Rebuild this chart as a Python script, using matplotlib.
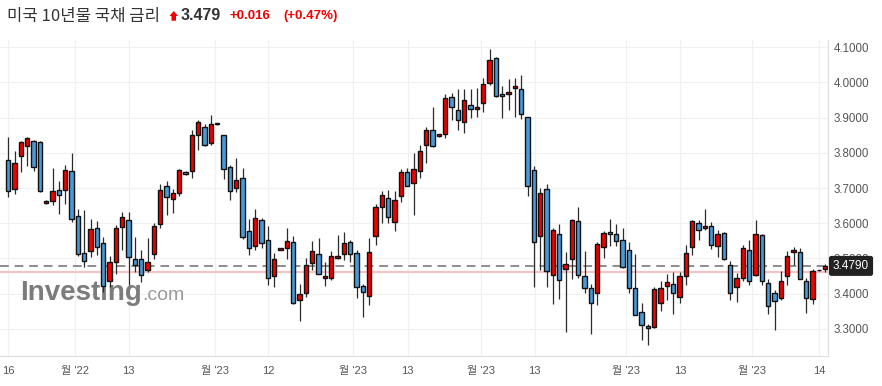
import matplotlib
matplotlib.use("Agg")
import matplotlib.pyplot as plt
import matplotlib.transforms as mtransforms
from matplotlib.patches import Polygon
import numpy as np

# daily candles (open, high, low, close)
opens = [3.780, 3.697, 3.791, 3.819, 3.834, 3.831, 3.657, 3.663, 3.695, 3.695,
         3.749, 3.620, 3.516, 3.522, 3.587, 3.544, 3.436, 3.491, 3.590, 3.610,
         3.499, 3.499, 3.468, 3.513, 3.598, 3.706, 3.669, 3.686, 3.746, 3.749,
         3.850, 3.873, 3.828, 3.882, 3.850, 3.760, 3.700, 3.729, 3.578, 3.536,
         3.610, 3.553, 3.451, 3.524, 3.530, 3.547, 3.383, 3.403, 3.488, 3.513,
         3.445, 3.445, 3.502, 3.513, 3.547, 3.516, 3.423, 3.394, 3.564, 3.646,
         3.672, 3.604, 3.678, 3.746, 3.714, 3.749, 3.822, 3.865, 3.848, 3.853,
         3.958, 3.921, 3.887, 3.936, 3.924, 3.941, 3.998, 4.069, 3.967, 3.967,
         3.984, 3.981, 3.902, 3.751, 3.564, 3.697, 3.454, 3.570, 3.470, 3.499,
         3.607, 3.451, 3.417, 3.403, 3.533, 3.575, 3.570, 3.553, 3.524, 3.417,
         3.349, 3.309, 3.306, 3.374, 3.423, 3.428, 3.391, 3.451, 3.533, 3.601,
         3.587, 3.592, 3.536, 3.573, 3.482, 3.419, 3.445, 3.524, 3.454, 3.567,
         3.431, 3.403, 3.388, 3.451, 3.519, 3.519, 3.436, 3.385, 3.467, 3.470]
highs = [3.844, 3.804, 3.835, 3.846, 3.836, 3.833, 3.665, 3.757, 3.720, 3.765,
         3.799, 3.642, 3.638, 3.612, 3.607, 3.560, 3.508, 3.594, 3.632, 3.632,
         3.561, 3.524, 3.558, 3.601, 3.712, 3.720, 3.698, 3.754, 3.748, 3.865,
         3.894, 3.882, 3.907, 3.883, 3.851, 3.765, 3.785, 3.757, 3.612, 3.641,
         3.615, 3.592, 3.516, 3.531, 3.587, 3.564, 3.428, 3.502, 3.550, 3.558,
         3.490, 3.522, 3.567, 3.575, 3.553, 3.524, 3.428, 3.558, 3.655, 3.692,
         3.695, 3.692, 3.754, 3.757, 3.799, 3.822, 3.873, 3.930, 3.855, 3.967,
         3.970, 3.981, 3.981, 3.981, 3.984, 4.012, 4.094, 4.072, 3.989, 4.009,
         4.012, 4.021, 3.903, 3.763, 3.700, 3.712, 3.587, 3.598, 3.519, 3.612,
         3.646, 3.522, 3.428, 3.547, 3.578, 3.612, 3.598, 3.587, 3.547, 3.513,
         3.374, 3.315, 3.420, 3.436, 3.456, 3.462, 3.462, 3.539, 3.610, 3.610,
         3.641, 3.604, 3.581, 3.574, 3.493, 3.459, 3.539, 3.553, 3.610, 3.570,
         3.442, 3.411, 3.465, 3.522, 3.533, 3.530, 3.445, 3.470, 3.467, 3.485]
lows = [3.674, 3.682, 3.747, 3.764, 3.748, 3.690, 3.655, 3.653, 3.625, 3.654,
        3.604, 3.508, 3.476, 3.505, 3.510, 3.406, 3.419, 3.455, 3.524, 3.424,
        3.462, 3.434, 3.462, 3.499, 3.587, 3.624, 3.629, 3.678, 3.738, 3.729,
        3.808, 3.819, 3.822, 3.880, 3.726, 3.666, 3.689, 3.556, 3.510, 3.524,
        3.530, 3.425, 3.419, 3.523, 3.499, 3.372, 3.323, 3.391, 3.468, 3.455,
        3.422, 3.439, 3.499, 3.496, 3.490, 3.388, 3.334, 3.368, 3.539, 3.601,
        3.601, 3.578, 3.660, 3.705, 3.624, 3.729, 3.771, 3.816, 3.846, 3.842,
        3.893, 3.865, 3.856, 3.899, 3.902, 3.916, 3.992, 3.958, 3.899, 3.921,
        3.902, 3.896, 3.678, 3.419, 3.468, 3.419, 3.371, 3.385, 3.292, 3.442,
        3.445, 3.403, 3.286, 3.368, 3.502, 3.536, 3.536, 3.473, 3.403, 3.339,
        3.269, 3.255, 3.303, 3.351, 3.383, 3.343, 3.374, 3.425, 3.510, 3.553,
        3.581, 3.527, 3.505, 3.496, 3.383, 3.377, 3.436, 3.425, 3.451, 3.425,
        3.343, 3.298, 3.383, 3.425, 3.482, 3.441, 3.346, 3.371, 3.465, 3.462]
closes = [3.692, 3.771, 3.830, 3.842, 3.760, 3.692, 3.663, 3.692, 3.680, 3.751,
          3.612, 3.513, 3.493, 3.584, 3.533, 3.423, 3.491, 3.587, 3.618, 3.505,
          3.482, 3.454, 3.491, 3.592, 3.695, 3.675, 3.686, 3.751, 3.740, 3.850,
          3.887, 3.822, 3.882, 3.881, 3.754, 3.692, 3.723, 3.561, 3.530, 3.615,
          3.544, 3.445, 3.499, 3.530, 3.550, 3.374, 3.400, 3.482, 3.522, 3.456,
          3.451, 3.507, 3.507, 3.544, 3.513, 3.419, 3.406, 3.519, 3.646, 3.680,
          3.618, 3.666, 3.746, 3.706, 3.754, 3.805, 3.865, 3.819, 3.853, 3.955,
          3.930, 3.893, 3.950, 3.924, 3.930, 3.995, 4.063, 3.961, 3.961, 3.972,
          3.989, 3.910, 3.706, 3.547, 3.686, 3.465, 3.581, 3.439, 3.485, 3.610,
          3.454, 3.417, 3.374, 3.541, 3.573, 3.570, 3.550, 3.476, 3.417, 3.340,
          3.312, 3.303, 3.414, 3.417, 3.434, 3.402, 3.451, 3.516, 3.607, 3.581,
          3.592, 3.539, 3.570, 3.499, 3.403, 3.445, 3.530, 3.436, 3.570, 3.436,
          3.366, 3.380, 3.436, 3.507, 3.524, 3.442, 3.388, 3.465, 3.466, 3.479]

tick_pos = [0, 10.5, 19, 32.6, 41.06, 54.5, 63.06, 74.6, 83.1, 97.6, 106.1, 117.5, 128.06]
tick_labels = ["16", "월 '22", "13", "월 '23", "12", "월 '23", "13", "월 '23",
               "13", "월 '23", "13", "월 '23", "14"]
y_ticks = [3.3, 3.4, 3.5, 3.6, 3.7, 3.8, 3.9, 4.0, 4.1]

last_price = 3.479
prev_close = 3.463
change = "+0.016"
change_pct = "(+0.47%)"

RED = "#f00000"
BLUE = "#4a9ad8"

o = np.array(opens)
h = np.array(highs)
l = np.array(lows)
c = np.array(closes)
x = np.arange(len(o))
up = c >= o

fig = plt.figure(figsize=(8.82, 3.86), dpi=100)
ax = fig.add_axes([0, 30 / 386, 828 / 882, 316 / 386])

# grid
for yv in y_ticks:
    ax.axhline(yv, color="#f1f1f1", lw=0.9, zorder=0)
for xv in tick_pos:
    ax.axvline(xv, color="#f1f1f1", lw=0.9, zorder=0)

# previous close + last price lines
ax.axhline(prev_close, color="#f7c2c2", lw=1.6, zorder=1)
ax.axhline(last_price, color="#8c8c8c", lw=1.4, ls=(0, (4.5, 3)), zorder=1)

# candles
ax.vlines(x, l, h, color="#2b2b2b", lw=0.9, zorder=2)
body_bottom = np.minimum(o, c)
body_height = np.maximum(np.abs(c - o), 0.0025)
colors = [RED if u else BLUE for u in up]
ax.bar(x, body_height, bottom=body_bottom, width=0.68, color=colors,
       edgecolor="#111111", linewidth=1.0, zorder=3)

ax.set_xlim(-1.31, 129.43)
ax.set_ylim(3.2230, 4.1207)

ax.yaxis.tick_right()
ax.set_yticks(y_ticks)
ax.set_yticklabels([f"{v:.4f}" for v in y_ticks])
ax.set_xticks(tick_pos)
ax.set_xticklabels(tick_labels)
ax.tick_params(axis="y", length=0, pad=4, labelsize=8.3, labelcolor="#555555")
ax.tick_params(axis="x", length=0, pad=7, labelsize=8, labelcolor="#555555")
for lab in ax.get_yticklabels():
    lab.set_family(["Liberation Sans", "DejaVu Sans"])
for lab in ax.get_xticklabels():
    lab.set_family(["Liberation Sans", "Noto Sans CJK KR", "DejaVu Sans"])

for s in ["top", "left"]:
    ax.spines[s].set_visible(False)
ax.spines["right"].set_color("#dddddd")
ax.spines["bottom"].set_color("#dddddd")

# price box on the right axis (covers part of 3.5000 like the original)
trans = mtransforms.blended_transform_factory(ax.transAxes, ax.transData)
ax.text(1.006, last_price, f"{last_price:.4f}", transform=trans, ha="left", va="center",
        color="white", fontsize=8.5, family=["Liberation Sans", "DejaVu Sans"],
        bbox=dict(boxstyle="round,pad=0.28,rounding_size=0.15", fc="#222222", ec="#222222"),
        clip_on=False, zorder=6)

# watermark, under the candles
ax.text(20 / 882, 1 - 300 / 386, "Investing", transform=fig.transFigure,
        fontsize=20, fontweight="bold", color="#7c7c7c", family="Liberation Sans",
        va="baseline", ha="left", zorder=1.5)
ax.text(142 / 882, 1 - 300 / 386, ".com", transform=fig.transFigure,
        fontsize=14, color="#999999", family="Liberation Sans",
        va="baseline", ha="left", zorder=1.5)

# header
fig.text(7 / 882, 1 - 16 / 386, "미국 10년물 국채 금리", fontsize=12, color="#333333",
         family=["Noto Sans CJK KR", "DejaVu Sans"], va="center", ha="left")
verts = [(169.5, 16), (173.8, 11), (178, 16), (176, 16), (176, 20.7), (171.5, 20.7), (171.5, 16)]
arrow = Polygon([(vx / 882, 1 - vy / 386) for vx, vy in verts], closed=True,
                fc=RED, ec="none", transform=fig.transFigure)
fig.patches.append(arrow)
fig.text(181 / 882, 1 - 16 / 386, f"{last_price:.3f}", fontsize=11.5, fontweight="bold",
         color="#333333", family="Liberation Sans", va="center", ha="left")
fig.text(230 / 882, 1 - 16 / 386, change, fontsize=9.5, fontweight="bold",
         color=RED, family="Liberation Sans", va="center", ha="left")
fig.text(283 / 882, 1 - 16 / 386, change_pct, fontsize=9.5, fontweight="bold",
         color=RED, family="Liberation Sans", va="center", ha="left")

fig.savefig("out.png", dpi=100, facecolor="white")
